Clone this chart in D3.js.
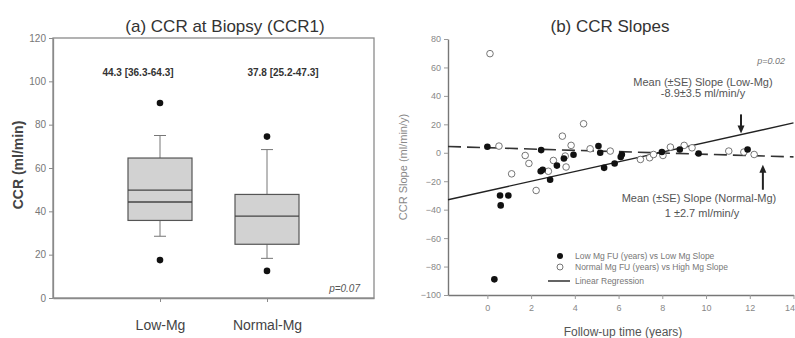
<!DOCTYPE html>
<html>
<head>
<meta charset="utf-8">
<script src="https://cdn.jsdelivr.net/npm/d3@7"></script>
<style>
  body { margin: 0; background: #fff; }
  svg { display: block; font-family: "Liberation Sans", Arial, sans-serif; }
</style>
</head>
<body>
<svg id="chart" width="795" height="338"></svg>
<script>
// ---- panel (a): CCR at biopsy, box plots ----
const groups = ["Low-Mg", "Normal-Mg"];
const boxQ1 = [35.8, 24.8];
const boxMedian = [44.3, 37.8];
const boxMean = [49.8, null];
const boxQ3 = [64.6, 47.8];
const whiskLow = [28.5, 18.3];
const whiskHigh = [75, 68.5];
const outliers = [[90, 17.5], [74.5, 12.5]];
const boxLabels = ["44.3 [36.3-64.3]", "37.8 [25.2-47.3]"];
const ccrTicks = [0, 20, 40, 60, 80, 100, 120];

// ---- panel (b): CCR slopes vs follow-up ----
// low Mg (filled) [years, slope]
const lowMgPts = [
  [0.0, 4.2], [0.58, -30], [0.96, -30], [0.61, -37], [0.32, -89],
  [2.46, 1.9], [2.44, -13], [2.53, -12], [2.87, -19], [3.18, -9],
  [3.5, -4], [3.94, -1.4], [5.08, 4.7], [5.16, 0], [5.34, -10.6],
  [5.82, -7.5], [6.15, -1.2], [6.1, -3], [7.98, 0.5], [8.8, 2.3],
  [9.66, -0.5], [11.9, 2.3]
];
// normal Mg (open) [years, slope]
const normalMgPts = [
  [0.12, 69.7], [0.53, 4.7], [1.11, -14.8], [1.73, -1.9], [1.9, -7.5],
  [2.23, -26.5], [2.79, -13], [3.02, -5.4], [3.43, 11.7], [3.56, -2.3],
  [3.6, -10], [3.83, 5.2], [4.4, 20.4], [4.7, 2.8], [5.62, 1.2],
  [7.0, -4.7], [7.42, -3.5], [7.6, -1.2], [8.03, -1.9], [8.37, 4],
  [9.0, 5.2], [9.36, 3.5], [11.04, 1.2], [11.73, 0.5], [12.2, -1.2]
];
const regLine = [[-1.8, -33], [14, 21]];
const meanLine = [[-1.8, 4.4], [14, -2.9]];
const slopeTicks = [-100, -80, -60, -40, -20, 0, 20, 40, 60, 80];
const yearTicks = [0, 2, 4, 6, 8, 10, 12, 14];
const legendLabels = [
  "Low Mg FU (years) vs Low Mg Slope",
  "Normal Mg FU (years) vs High Mg Slope",
  "Linear Regression"
];

const svg = d3.select("#chart");

// ================= panel (a) =================
const xL = d3.scalePoint().domain(groups).range([53, 374]).padding(1);
const yL = d3.scaleLinear().domain([0, 120]).range([298, 38]);

const gA = svg.append("g");

gA.append("rect")
  .attr("x", 53).attr("y", yL(120))
  .attr("width", 374 - 53).attr("height", yL(0) - yL(120))
  .attr("fill", "none").attr("stroke", "#8a8a8a").attr("stroke-width", 1.3);

const axL = gA.append("g")
  .attr("transform", "translate(53,0)")
  .call(d3.axisLeft(yL).tickValues(ccrTicks).tickSize(4).tickSizeOuter(0).tickPadding(3));
axL.selectAll("text").attr("font-size", 10).attr("fill", "#777");

const axB = gA.append("g")
  .attr("transform", `translate(0,${yL(0)})`)
  .call(d3.axisBottom(xL).tickSize(4).tickSizeOuter(0).tickPadding(18));
axB.selectAll("text").attr("font-size", 14).attr("fill", "#444");
gA.selectAll(".domain").attr("stroke", "#8a8a8a").attr("stroke-width", 1.3);
gA.selectAll(".tick line").attr("stroke", "#8a8a8a");

const bw = 64;
groups.forEach((g, i) => {
  const cx = xL(g);
  // whiskers
  gA.append("line").attr("x1", cx).attr("x2", cx)
    .attr("y1", yL(boxQ3[i])).attr("y2", yL(whiskHigh[i]))
    .attr("stroke", "#777");
  gA.append("line").attr("x1", cx).attr("x2", cx)
    .attr("y1", yL(boxQ1[i])).attr("y2", yL(whiskLow[i]))
    .attr("stroke", "#777");
  [whiskHigh[i], whiskLow[i]].forEach(v => {
    gA.append("line").attr("x1", cx - 6).attr("x2", cx + 6)
      .attr("y1", yL(v)).attr("y2", yL(v)).attr("stroke", "#777");
  });
  gA.append("rect")
    .attr("x", cx - bw / 2).attr("y", yL(boxQ3[i]))
    .attr("width", bw).attr("height", yL(boxQ1[i]) - yL(boxQ3[i]))
    .attr("fill", "#d2d2d2").attr("stroke", "#555").attr("stroke-width", 1.2);
  gA.append("line").attr("x1", cx - bw / 2).attr("x2", cx + bw / 2)
    .attr("y1", yL(boxMedian[i])).attr("y2", yL(boxMedian[i]))
    .attr("stroke", "#444").attr("stroke-width", 1.3);
  if (boxMean[i] != null) {
    gA.append("line").attr("x1", cx - bw / 2).attr("x2", cx + bw / 2)
      .attr("y1", yL(boxMean[i])).attr("y2", yL(boxMean[i]))
      .attr("stroke", "#444").attr("stroke-width", 1.3);
  }
  gA.selectAll(null).data(outliers[i]).enter().append("circle")
    .attr("cx", cx).attr("cy", d => yL(d)).attr("r", 3.3).attr("fill", "#111");
});

gA.selectAll(".blabel").data(boxLabels).enter().append("text")
  .attr("x", (d, i) => [138, 283][i]).attr("y", 76)
  .attr("text-anchor", "middle").attr("font-size", 10).attr("font-weight", "bold")
  .attr("fill", "#333").text(d => d);

gA.append("text").attr("x", 360).attr("y", 292).attr("text-anchor", "end")
  .attr("font-size", 10).attr("font-style", "italic").attr("fill", "#555").text("p=0.07");

gA.append("text").attr("x", 225).attr("y", 32).attr("text-anchor", "middle")
  .attr("font-size", 17).attr("fill", "#333").text("(a) CCR at Biopsy (CCR1)");

gA.append("text").attr("transform", "translate(23,165) rotate(-90)")
  .attr("text-anchor", "middle").attr("font-size", 14).attr("font-weight", "bold")
  .attr("fill", "#444").text("CCR (ml/min)");

// ================= panel (b) =================
const xR = d3.scaleLinear().domain([-1.8, 14]).range([448, 793.5]);
const yR = d3.scaleLinear().domain([-100, 80]).range([295, 39]);

const gB = svg.append("g");

const axRL = gB.append("g")
  .attr("transform", `translate(${xR(-1.8)},0)`)
  .call(d3.axisLeft(yR).tickValues(slopeTicks).tickSize(4).tickSizeOuter(0).tickPadding(3));
axRL.selectAll("text").attr("font-size", 9).attr("fill", "#888");

const axRB = gB.append("g")
  .attr("transform", `translate(0,${yR(-100)})`)
  .call(d3.axisBottom(xR).tickValues(yearTicks).tickSize(4).tickSizeOuter(0).tickPadding(6));
axRB.selectAll("text").attr("font-size", 9).attr("fill", "#888");
// last label sits at the window edge: pull it inside
axRB.selectAll(".tick text").filter(d => d === 14)
  .attr("text-anchor", "end").attr("dx", 1);
gB.selectAll(".domain").attr("stroke", "#777").attr("stroke-width", 1.4);
gB.selectAll(".tick line").attr("stroke", "#999");

const line = d3.line().x(d => xR(d[0])).y(d => yR(d[1]));
gB.append("path").attr("d", line(meanLine)).attr("fill", "none")
  .attr("stroke", "#333").attr("stroke-width", 1.6).attr("stroke-dasharray", "13,6");
gB.append("path").attr("d", line(regLine)).attr("fill", "none")
  .attr("stroke", "#222").attr("stroke-width", 1.4);

gB.selectAll(".open").data(normalMgPts).enter().append("circle")
  .attr("cx", d => xR(d[0])).attr("cy", d => yR(d[1])).attr("r", 3.3)
  .attr("fill", "#fff").attr("stroke", "#666").attr("stroke-width", 0.9);
gB.selectAll(".fill").data(lowMgPts).enter().append("circle")
  .attr("cx", d => xR(d[0])).attr("cy", d => yR(d[1])).attr("r", 3.3)
  .attr("fill", "#111");

// arrows
const arrows = [{ x: 11.6, from: 27, to: 13.5 }, { x: 12.6, from: -26, to: -8.5 }];
arrows.forEach(a => {
  const x = xR(a.x), y0 = yR(a.from), y1 = yR(a.to);
  const dir = y1 > y0 ? 1 : -1;
  gB.append("line").attr("x1", x).attr("x2", x).attr("y1", y0).attr("y2", y1 - dir * 5)
    .attr("stroke", "#222").attr("stroke-width", 2);
  gB.append("path")
    .attr("d", `M${x - 3.5},${y1 - dir * 8}L${x + 3.5},${y1 - dir * 8}L${x},${y1}Z`)
    .attr("fill", "#222");
});

const ann = [
  { x: 703, y: 86, t: "Mean (\u00B1SE) Slope (Low-Mg)" },
  { x: 703, y: 97, t: "-8.9\u00B13.5 ml/min/y" },
  { x: 699, y: 202, t: "Mean (\u00B1SE) Slope (Normal-Mg)" },
  { x: 702, y: 217, t: "1 \u00B12.7 ml/min/y" }
];
gB.selectAll(".ann").data(ann).enter().append("text")
  .attr("x", d => d.x).attr("y", d => d.y).attr("text-anchor", "middle")
  .attr("font-size", 11).attr("fill", "#555").text(d => d.t);

gB.append("text").attr("x", 785).attr("y", 64).attr("text-anchor", "end")
  .attr("font-size", 9).attr("font-style", "italic").attr("fill", "#777").text("p=0.02");

// legend
const lg = gB.append("g");
lg.append("circle").attr("cx", 560).attr("cy", 256).attr("r", 3).attr("fill", "#111");
lg.append("circle").attr("cx", 560).attr("cy", 267).attr("r", 3)
  .attr("fill", "#fff").attr("stroke", "#666").attr("stroke-width", 0.9);
lg.append("line").attr("x1", 548).attr("x2", 570).attr("y1", 281).attr("y2", 281)
  .attr("stroke", "#222").attr("stroke-width", 1.4);
lg.selectAll("text").data(legendLabels).enter().append("text")
  .attr("x", 575).attr("y", (d, i) => [259, 270, 284][i])
  .attr("font-size", 8.5).attr("fill", "#777").text(d => d);

gB.append("text").attr("x", 610).attr("y", 32).attr("text-anchor", "middle")
  .attr("font-size", 17).attr("fill", "#333").text("(b) CCR Slopes");

gB.append("text").attr("transform", "translate(407,167) rotate(-90)")
  .attr("text-anchor", "middle").attr("font-size", 11).attr("fill", "#888")
  .text("CCR Slope (ml/min/y)");

gB.append("text").attr("x", 623).attr("y", 336).attr("text-anchor", "middle")
  .attr("font-size", 12).attr("fill", "#555").text("Follow-up time (years)");
</script>
</body>
</html>
